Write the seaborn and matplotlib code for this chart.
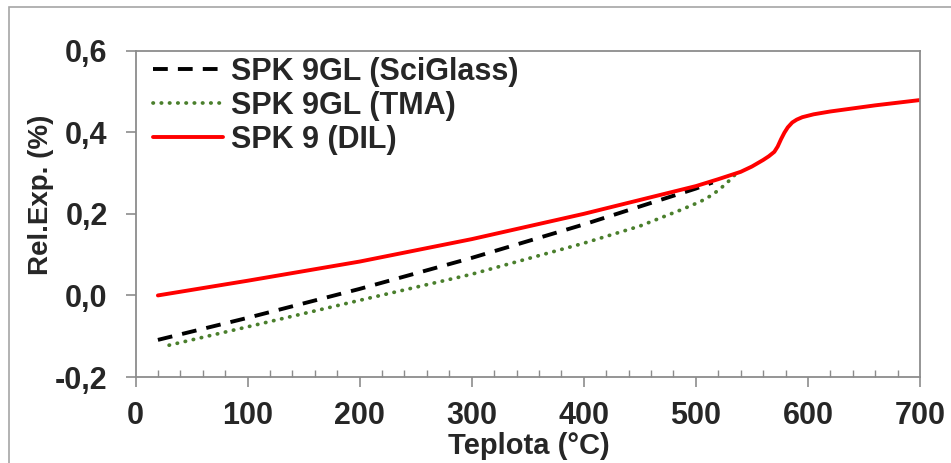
import numpy as np
import pandas as pd
import matplotlib
matplotlib.use("Agg")
import matplotlib.pyplot as plt
import seaborn as sns
from matplotlib.ticker import FuncFormatter, MultipleLocator
from matplotlib.patches import Rectangle

# Data
temp_sciglass = [20, 100, 200, 300, 400, 500, 515]
exp_sciglass = [-0.109, -0.055, 0.016, 0.092, 0.174, 0.262, 0.277]

temp_tma = [30, 100, 200, 300, 400, 450, 486, 504, 515, 524, 530, 536]
exp_tma = [-0.122, -0.077, -0.012, 0.052, 0.128, 0.170, 0.209, 0.230, 0.247, 0.267, 0.282, 0.299]

temp_dil = [20, 100, 200, 300, 400, 500, 520, 540, 550, 560, 565, 570, 573, 576, 579, 582,
            586, 590, 595, 605, 620, 660, 700]
exp_dil = [0.0, 0.036, 0.083, 0.138, 0.200, 0.268, 0.285, 0.303, 0.316, 0.332, 0.341, 0.352,
           0.365, 0.383, 0.399, 0.412, 0.424, 0.431, 0.437, 0.444, 0.451, 0.466, 0.479]

labels = ["SPK 9GL (SciGlass)", "SPK 9GL (TMA)", "SPK 9 (DIL)"]

sns.set_style("white")
plt.rcParams['font.family'] = ['Liberation Sans', 'DejaVu Sans']
plt.rcParams['font.weight'] = 'bold'
FS = 21
TICK_FS = 22
GRAY = '#8c8c8c'

fig = plt.figure(figsize=(9.51, 4.63), dpi=100)
ax = fig.add_axes([135.5 / 951, 1 - 377 / 463, (920 - 135.5) / 951, (377 - 50.7) / 463])

# outer chart border
fig.patches.append(Rectangle((9 / 951, -0.1), 1.2, 1 - 7 / 463 + 0.1, transform=fig.transFigure,
                             fill=False, edgecolor='#a6a6a6', linewidth=1.2))

df1 = pd.DataFrame({"T": temp_sciglass, "v": exp_sciglass})
df2 = pd.DataFrame({"T": temp_tma, "v": exp_tma})
df3 = pd.DataFrame({"T": temp_dil, "v": exp_dil})

sns.lineplot(data=df1, x="T", y="v", ax=ax, color='black', linewidth=2.8,
             linestyle=(0, (3.8, 2.6)), label=labels[0])
sns.lineplot(data=df2, x="T", y="v", ax=ax, color='#4a7f2c', linewidth=2.7,
             linestyle=(0, (0.1, 2.1)), dash_capstyle='round', label=labels[1])
sns.lineplot(data=df3, x="T", y="v", ax=ax, color='#ff0000', linewidth=2.8,
             label=labels[2])

ax.set_xlim(0, 700)
ax.set_ylim(-0.2, 0.6)
ax.xaxis.set_major_locator(MultipleLocator(100))
ax.xaxis.set_minor_locator(MultipleLocator(20))
ax.yaxis.set_major_locator(MultipleLocator(0.2))
ax.yaxis.set_major_formatter(FuncFormatter(lambda v, p: f"{v:.1f}".replace('.', ',').replace('-0,0', '0,0')))

for s in ax.spines.values():
    s.set_color(GRAY)
    s.set_linewidth(1.3)

ax.tick_params(axis='x', which='major', direction='out', length=7, width=1.2, color=GRAY,
               labelsize=TICK_FS, pad=10, bottom=True)
ax.tick_params(axis='x', which='minor', direction='in', length=5, width=1.0, color=GRAY, bottom=True)
ax.tick_params(axis='y', which='major', direction='out', length=7, width=1.2, color=GRAY,
               labelsize=TICK_FS, pad=13, left=True)
for t in ax.get_xticklabels() + ax.get_yticklabels():
    t.set_fontweight('bold')

ax.set_xlabel("Teplota (°C)", fontsize=FS, fontweight='bold')
ax.xaxis.set_label_coords(0.502, -0.170)
ax.set_ylabel("Rel.Exp. (%)", fontsize=20, fontweight='bold')
ax.yaxis.set_label_coords(-0.104, 0.559)

leg = ax.legend(loc='upper left', bbox_to_anchor=(17.5 / 784.5, 0.982), frameon=False,
                handlelength=2.3, handletextpad=0.26, labelspacing=0.14,
                borderaxespad=0, borderpad=0, prop={'weight': 'bold', 'size': 22})

fig.savefig("out.png", dpi=100)
